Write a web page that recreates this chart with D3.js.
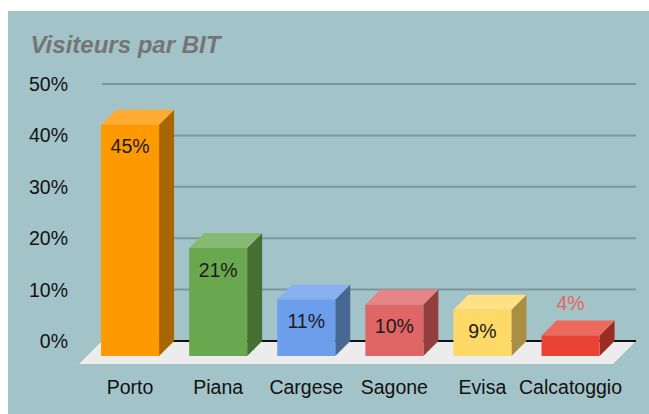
<!DOCTYPE html>
<html>
<head>
<meta charset="utf-8">
<script src="https://cdn.jsdelivr.net/npm/d3@7"></script>
<style>
  html, body { margin: 0; padding: 0; background: #fff; }
  svg { display: block; font-family: "Liberation Sans", Arial, sans-serif; }
</style>
</head>
<body>
<svg id="chart" width="649" height="414"></svg>
<script>
const categories = ["Porto", "Piana", "Cargese", "Sagone", "Evisa", "Calcatoggio"];
const values = [0.45, 0.21, 0.11, 0.10, 0.09, 0.04];
const labels = ["45%", "21%", "11%", "10%", "9%", "4%"];
const yTicks = [0, 0.1, 0.2, 0.3, 0.4, 0.5];
const frontColors = ["#ff9900", "#6aa84f", "#6d9eeb", "#e06666", "#ffd966", "#ea4335"];
const topColors = ["#ffaa33", "#88b972", "#89b1ef", "#e68585", "#ffe083", "#ee695d"];
const sideColors = ["#a86500", "#466f34", "#486894", "#943f3f", "#a88f43", "#9b2c23"];

const svg = d3.select("#chart");
svg.append("rect").attr("x", 8).attr("y", 11).attr("width", 641).attr("height", 403).attr("fill", "#a2c4c9");

svg.append("text")
  .attr("x", 30.5).attr("y", 52.5)
  .attr("fill", "#757575")
  .style("font-size", "24px").style("font-weight", "bold").style("font-style", "italic")
  .text("Visiteurs par BIT");

const depth = 15;
const floorDepth = 23;
const backLeft = 102, backRight = 636;
const y = d3.scaleLinear().domain([0, 0.5]).range([341, 84]);
const x = d3.scaleBand().domain(categories).range([86, 614.6]).paddingInner(0.3417).paddingOuter(0.171);

// grid
svg.append("g").selectAll("line").data(yTicks.filter((t) => t > 0)).join("line")
  .attr("x1", backLeft).attr("x2", backRight)
  .attr("y1", (d) => y(d)).attr("y2", (d) => y(d))
  .attr("stroke", "#7a989c").attr("stroke-width", 2);

// floor
svg.append("path")
  .attr("d", `M${backLeft},${y(0)} L${backRight},${y(0)} L${backRight - floorDepth},${y(0) + floorDepth} L${backLeft - floorDepth},${y(0) + floorDepth} Z`)
  .attr("fill", "#ececec");
svg.append("line")
  .attr("x1", backLeft).attr("x2", backRight).attr("y1", y(0)).attr("y2", y(0))
  .attr("stroke", "#111").attr("stroke-width", 2);

// y axis labels
svg.append("g").selectAll("text").data(yTicks).join("text")
  .attr("x", 68).attr("y", (d) => y(d) + 7)
  .attr("text-anchor", "end").attr("fill", "#111")
  .style("font-size", "19.5px")
  .text((d) => d3.format(".0%")(d));

// bars
const bars = svg.append("g").selectAll("g").data(categories).join("g");
const bw = x.bandwidth();
bars.append("path")
  .attr("d", (d, i) => {
    const x0 = x(d) + bw, yt = y(values[i]) + depth, yb = y(0) + depth;
    return `M${x0},${yt} L${x0 + depth},${yt - depth} L${x0 + depth},${yb - depth} L${x0},${yb} Z`;
  })
  .attr("fill", (d, i) => sideColors[i]);
bars.append("path")
  .attr("d", (d, i) => {
    const x0 = x(d), yt = y(values[i]) + depth;
    return `M${x0},${yt} L${x0 + depth},${yt - depth} L${x0 + bw + depth},${yt - depth} L${x0 + bw},${yt} Z`;
  })
  .attr("fill", (d, i) => topColors[i]);
bars.append("rect")
  .attr("x", (d) => x(d))
  .attr("y", (d, i) => y(values[i]) + depth)
  .attr("width", bw)
  .attr("height", (d, i) => y(0) - y(values[i]))
  .attr("fill", (d, i) => frontColors[i]);

// value labels
bars.append("text")
  .attr("x", (d) => x(d) + bw / 2)
  .attr("y", (d, i) => (values[i] < 0.07 ? y(values[i]) + depth - 25.5 : y(values[i]) + depth + 28.5))
  .attr("text-anchor", "middle")
  .attr("fill", (d, i) => (values[i] < 0.07 ? "#e8675b" : "#1a1a1a"))
  .style("font-size", "19.5px")
  .text((d, i) => labels[i]);

// category labels
svg.append("g").selectAll("text").data(categories).join("text")
  .attr("x", (d) => x(d) + bw / 2)
  .attr("y", 394)
  .attr("text-anchor", "middle").attr("fill", "#111")
  .style("font-size", "19.5px")
  .text((d) => d);
</script>
</body>
</html>
